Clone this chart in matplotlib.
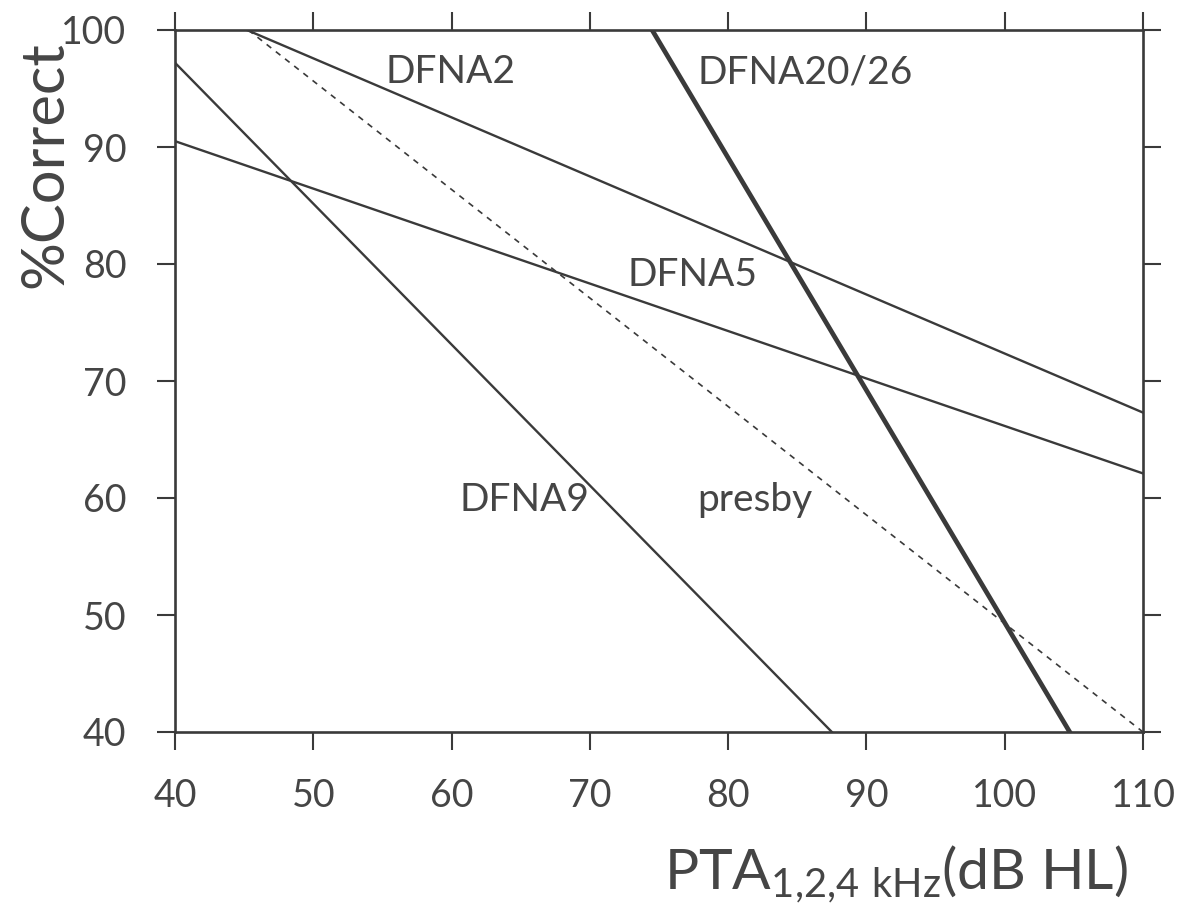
import numpy as np
import matplotlib
matplotlib.use("Agg")
import matplotlib.pyplot as plt
import matplotlib.ticker as ticker

plt.rcParams['font.family'] = ['Lato', 'DejaVu Sans']
plt.rcParams['mathtext.default'] = 'regular'

# endpoints (PTA in dB HL, % correct)
dfna2_x = [45.2, 110.0]
dfna2_y = [100.0, 67.3]
dfna5_x = [40.0, 110.0]
dfna5_y = [90.5, 62.1]
dfna9_x = [40.0, 87.5]
dfna9_y = [97.2, 40.0]
dfna20_x = [74.5, 104.7]
dfna20_y = [100.0, 40.0]
presby_x = [45.3, 110.0]
presby_y = [100.0, 40.0]

labels = ["DFNA2", "DFNA20/26", "DFNA5", "DFNA9", "presby"]
label_x = [59.9, 85.6, 77.4, 65.3, 81.9]
label_y = [96.4, 96.4, 79.1, 59.8, 59.8]

xticks = [40, 50, 60, 70, 80, 90, 100, 110]
yticks = [40, 50, 60, 70, 80, 90, 100]

line_col = '#3a3a3a'
text_col = '#454545'

fig = plt.figure(figsize=(11.84, 9.08), dpi=100)
ax = fig.add_axes([175/1184, 1-732/908, (1143-175)/1184, (732-30)/908])

ax.plot(dfna2_x, dfna2_y, color=line_col, lw=1.7)
ax.plot(dfna5_x, dfna5_y, color=line_col, lw=1.7)
ax.plot(dfna9_x, dfna9_y, color=line_col, lw=1.7)
ax.plot(dfna20_x, dfna20_y, color=line_col, lw=3.4)
ax.plot(presby_x, presby_y, color=line_col, lw=1.2, dashes=(3.5, 3.5))

for t, x, y in zip(labels, label_x, label_y):
    ax.text(x, y, t, fontsize=28, color=text_col, ha='center', va='center')

ax.set_xlim(40, 110)
ax.set_ylim(40, 100)
ax.xaxis.set_major_locator(ticker.FixedLocator(xticks))
ax.yaxis.set_major_locator(ticker.FixedLocator(yticks))
ax.tick_params(direction='out', length=13, width=1.5, colors=line_col,
               labelcolor=text_col, labelsize=27, top=True, right=True)
ax.tick_params(axis='x', pad=20)
ax.tick_params(axis='y', pad=22)
for s in ax.spines.values():
    s.set_linewidth(1.9)
    s.set_color(line_col)

fig.text(45/1184, 1-165/908, "%Correct", rotation=90, fontsize=43,
         color=text_col, ha='center', va='center')
fig.text(1128/1184, 1-890/908, r"PTA$_{1{,}2{,}4\ kHz}$(dB HL)", fontsize=41,
         color=text_col, ha='right', va='baseline')

fig.savefig("out.png", dpi=100, facecolor='white')
